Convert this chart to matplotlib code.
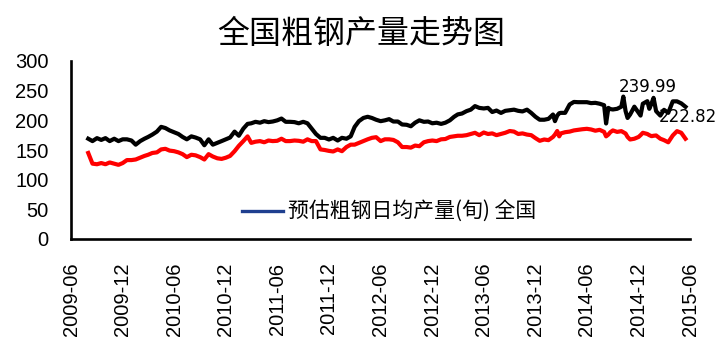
import matplotlib
matplotlib.use("Agg")
import matplotlib.pyplot as plt
import matplotlib.dates as mdates
from matplotlib.lines import Line2D
import pandas as pd

title = "全国粗钢产量走势图"
legend_label = "预估粗钢日均产量(旬) 全国"

dates = [
    "2009-08-01", "2009-08-16", "2009-09-01", "2009-09-16", "2009-10-01", "2009-10-16",
    "2009-11-01", "2009-11-16", "2009-12-01", "2009-12-16",
    "2010-01-01", "2010-01-16", "2010-02-01", "2010-02-16", "2010-03-01", "2010-03-16",
    "2010-04-01", "2010-04-16", "2010-05-01", "2010-05-16", "2010-06-01", "2010-06-16",
    "2010-07-01", "2010-07-16", "2010-08-01", "2010-08-16", "2010-09-01", "2010-09-16",
    "2010-10-01", "2010-10-16", "2010-11-01", "2010-11-16", "2010-12-01", "2010-12-16",
    "2011-01-01", "2011-01-16", "2011-02-01", "2011-02-16", "2011-03-01", "2011-03-16",
    "2011-04-01", "2011-04-16", "2011-05-01", "2011-05-16", "2011-06-01", "2011-06-16",
    "2011-07-01", "2011-07-16", "2011-08-01", "2011-08-16", "2011-09-01", "2011-09-16",
    "2011-10-01", "2011-10-16", "2011-11-01", "2011-11-16", "2011-12-01", "2011-12-16",
    "2012-01-01", "2012-01-16", "2012-02-01", "2012-02-16", "2012-03-01", "2012-03-16",
    "2012-04-01", "2012-04-16", "2012-05-01", "2012-05-16", "2012-06-01", "2012-06-16",
    "2012-07-01", "2012-07-16", "2012-08-01", "2012-08-16", "2012-09-01", "2012-09-16",
    "2012-10-01", "2012-10-16", "2012-11-01", "2012-11-16", "2012-12-01", "2012-12-16",
    "2013-01-01", "2013-01-16", "2013-02-01", "2013-02-16", "2013-03-01", "2013-03-16",
    "2013-04-01", "2013-04-16", "2013-05-01", "2013-05-16", "2013-06-01", "2013-06-16",
    "2013-07-01", "2013-07-16", "2013-08-01", "2013-08-16", "2013-09-01", "2013-09-16",
    "2013-10-01", "2013-10-16", "2013-11-01", "2013-11-16", "2013-12-01", "2013-12-16",
    "2014-01-01", "2014-01-16", "2014-02-01", "2014-02-08", "2014-02-16", "2014-02-23",
    "2014-03-01", "2014-03-16", "2014-04-01", "2014-04-16", "2014-05-01", "2014-05-16",
    "2014-06-01", "2014-06-16", "2014-07-01", "2014-07-16", "2014-08-01", "2014-08-08",
    "2014-08-16", "2014-08-23", "2014-09-01", "2014-09-16", "2014-10-01", "2014-10-08",
    "2014-10-16", "2014-10-23", "2014-11-01", "2014-11-16", "2014-12-01", "2014-12-08",
    "2014-12-16",
    "2015-01-01", "2015-01-08", "2015-01-16", "2015-01-23", "2015-02-01", "2015-02-16",
    "2015-03-01", "2015-03-16", "2015-04-01", "2015-04-16", "2015-05-01", "2015-05-16",
]

black_values = [
    169, 165, 170, 167, 170, 165, 169, 165, 168, 168,
    166, 159, 165, 169, 172, 176, 181, 189, 187, 183, 180, 177,
    172, 168, 173, 171, 168, 158, 168, 159, 162, 165, 168, 171,
    181, 174, 186, 194, 195, 197.5, 196, 198.6, 197, 198, 200, 203,
    197.5, 197.5, 197, 195, 197.5, 195, 186, 177, 170.5, 170.5, 167.7, 170.5,
    166, 170.5, 169, 173, 189, 198.6, 204, 206, 204, 201, 198.6, 200,
    202, 198, 198, 193, 192.5, 190, 196, 200, 197.5, 198, 195, 196,
    194, 196, 200, 206, 210, 211.5, 215.5, 218, 224, 221, 220, 221,
    214, 216.5, 212.5, 216, 217, 218, 216, 215, 218, 212.5, 206, 201,
    201, 202.5, 209.8, 198.6, 208, 212, 212.6, 212.6, 226.7, 231, 230.6, 230.6,
    230.6, 229, 229.5, 228, 225.5, 194.7, 221, 219, 218.3, 219.4, 223, 239.99,
    215.5, 204, 209.8, 223, 212.6, 208, 228,
    232.3, 219.4, 228.6, 237.9, 215.5, 208, 217.7, 212.6, 232, 232, 228.6, 222.82,
]

red_values = [
    145, 127, 126, 128, 126, 129, 127, 125, 128, 133,
    133, 134, 137, 140, 142, 145, 146, 151, 152, 149, 148, 146,
    143, 138, 142, 141, 138, 134, 143, 139, 136, 135, 137, 140,
    148, 157, 165, 173, 162, 164, 165, 163, 166, 165, 165.5, 169,
    165, 165, 166, 165.5, 164, 168, 165, 165, 151, 150, 148.5, 147.5,
    151, 148, 155, 159, 159, 162, 165, 168, 170.5, 171.6, 165, 168,
    168, 167, 163, 155, 155, 154, 157.5, 156.4, 163, 165, 166, 165,
    168, 168.5, 172, 173, 174, 174, 175, 177, 179, 175, 179.5, 177,
    178, 175, 177, 179, 182, 181, 177, 178, 176, 175, 170, 165.5,
    167.7, 166.6, 172, 176, 182, 173, 178, 180, 181, 183, 184, 185,
    185.7, 184.6, 182.5, 184, 180.5, 173, 176, 180, 183, 180.5, 181.8, 180,
    177.8, 172, 167.7, 169, 172, 175, 179,
    177, 175, 173.3, 174, 174.5, 169, 166.6, 163, 174.5, 181.8, 179, 169,
]

peak_label = "239.99"
last_label = "222.82"
peak_date = "2014-10-08"
peak_value = 239.99

y_ticks = [0, 50, 100, 150, 200, 250, 300]
x_tick_dates = ["2009-06-01", "2009-12-01", "2010-06-01", "2010-12-01", "2011-06-01",
                "2011-12-01", "2012-06-01", "2012-12-01", "2013-06-01", "2013-12-01",
                "2014-06-01", "2014-12-01", "2015-06-01"]

cjk = ["Noto Sans CJK SC", "DejaVu Sans"]
plt.rcParams["font.family"] = ["Liberation Sans", "DejaVu Sans"]
tick_size = 14.5

x = pd.to_datetime(dates)

fig = plt.figure(figsize=(7.23, 3.53), dpi=100)
ax = fig.add_axes([71 / 723, 114 / 353, 619 / 723, 178 / 353])

ax.plot(x, red_values, color="#FF0000", lw=3.0, solid_joinstyle="round", zorder=3)
ax.plot(x, black_values, color="#000000", lw=3.0, solid_joinstyle="round", zorder=4)

ax.set_ylim(0, 300)
ax.set_yticks(y_ticks)
ax.set_xlim(pd.Timestamp("2009-06-01"), pd.Timestamp("2015-06-01"))
ax.set_xticks(pd.to_datetime(x_tick_dates))
ax.xaxis.set_major_formatter(mdates.DateFormatter("%Y-%m"))
ax.tick_params(axis="y", length=0, pad=16, labelsize=tick_size)
ax.tick_params(axis="x", length=0, pad=17, labelsize=tick_size, labelrotation=90)

for s in ["top", "right"]:
    ax.spines[s].set_visible(False)
for s in ["left", "bottom"]:
    ax.spines[s].set_linewidth(1.9)
    ax.spines[s].set_color("black")

ax.annotate(peak_label, xy=(pd.Timestamp(peak_date), peak_value), xytext=(24, 10),
            textcoords="offset pixels", ha="center", va="center",
            fontsize=12, family="DejaVu Sans", zorder=5)
ax.annotate(last_label, xy=(x[-1], black_values[-1]), xytext=(2, -10),
            textcoords="offset pixels", ha="center", va="center",
            fontsize=12, family="DejaVu Sans", zorder=5, annotation_clip=False)

handle = Line2D([], [], color="#1F3F8F", lw=2.4)
leg = ax.legend([handle], [legend_label], loc="center left",
                bbox_to_anchor=(242 / 723, 141 / 353), bbox_transform=fig.transFigure,
                frameon=False, borderpad=0, borderaxespad=0, handlelength=1.95,
                handletextpad=0.25, prop={"family": cjk, "size": 15})

fig.text(0.5, 1 - 34 / 353, title, ha="center", va="center",
         fontsize=23, family=cjk)

fig.savefig("out.png", dpi=100, facecolor="white")
